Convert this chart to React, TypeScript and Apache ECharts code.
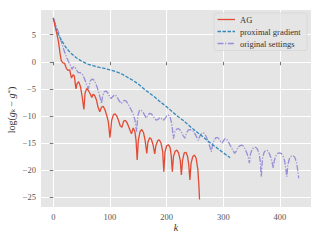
import React, { useEffect, useRef } from "react";
import * as echarts from "echarts";

const xTicks = [0, 100, 200, 300, 400];
const yTicks = [5, 0, -5, -10, -15, -20, -25];
const seriesNames = ["AG", "proximal gradient", "original settings"];
const seriesColors = ["#E24A33", "#348ABD", "#988ED5"];
const seriesDashes: (number[] | null)[] = [null, [3.5, 1.5], [6, 1.6, 1.2, 1.6]];

const agData: [number, number][] = [
  [0, 8.1], [3, 6.6], [6, 5.3], [9, 3.8], [12, 1.5], [14, 0.2], [17, -0.2], [20, -0.3],
  [23, -1.2], [26, -1.6], [29, -1.5], [32, -3.0], [35, -2.4], [37, -2.6], [40, -5.0],
  [42, -4.0], [45, -3.7], [48, -4.6], [51, -6.5], [54, -8.8], [56, -5.8], [59, -4.9],
  [62, -5.3], [65, -5.9], [68, -6.6], [70, -6.0], [73, -6.2], [76, -7.0], [79, -8.4],
  [82, -9.2], [85, -8.4], [88, -8.2], [91, -8.8], [94, -9.8], [97, -11.0], [100, -14.0],
  [103, -10.8], [106, -9.8], [109, -9.6], [112, -10.0], [115, -10.8], [118, -11.8],
  [121, -12.1], [124, -11.0], [127, -10.8], [130, -11.2], [133, -12.0], [136, -12.8],
  [138, -13.3], [141, -12.2], [144, -12.9], [146, -14.5], [148, -18.1], [150, -14.5],
  [153, -12.9], [156, -12.5], [159, -13.0], [162, -14.5], [165, -16.9], [167, -14.8],
  [170, -14.0], [173, -14.3], [176, -15.3], [179, -17.0], [181, -15.5], [184, -14.6],
  [187, -14.4], [190, -15.0], [193, -16.5], [195, -20.3], [197, -16.7], [200, -15.5],
  [203, -15.3], [206, -15.8], [208, -17.2], [210, -20.3], [212, -17.5], [215, -16.5],
  [218, -16.3], [221, -16.8], [224, -18.2], [226, -20.9], [228, -18.2], [231, -16.8],
  [234, -16.7], [237, -17.5], [239, -19.0], [241, -21.8], [243, -18.8], [246, -17.5],
  [249, -17.2], [252, -17.8], [255, -19.8], [257, -23.0], [258, -25.4],
];

const proxData: [number, number][] = [
  [0, 8.1], [5, 6.0], [10, 4.8], [15, 3.9], [20, 3.0], [25, 2.3], [30, 1.7], [40, 0.8],
  [50, 0.1], [60, -0.4], [70, -0.7], [80, -1.0], [90, -1.2], [100, -1.5], [110, -1.8],
  [120, -2.2], [130, -2.8], [140, -3.4], [150, -4.1], [160, -5.0], [170, -5.8],
  [180, -6.6], [190, -7.5], [200, -8.3], [210, -9.2], [220, -10.1], [230, -10.9],
  [240, -11.8], [250, -12.7], [260, -13.5], [270, -14.4], [280, -15.2], [290, -16.0],
  [300, -16.8], [312, -17.7],
];

const origData: [number, number][] = [
  [0, 8.0], [3, 7.2], [6, 6.3], [9, 5.5], [12, 4.4], [15, 3.4], [18, 2.4], [21, 1.5],
  [24, 0.7], [27, 0.0], [30, -0.5], [33, -1.4], [35, -1.0], [38, -0.9], [41, -1.5],
  [44, -2.0], [47, -2.0], [50, -2.1], [53, -2.6], [56, -3.4], [59, -4.3], [62, -5.0],
  [65, -3.6], [68, -3.2], [71, -3.3], [74, -3.8], [77, -4.6], [80, -5.6], [83, -6.8],
  [85, -7.7], [87, -6.3], [90, -5.5], [93, -5.4], [96, -5.7], [99, -6.3], [102, -6.8],
  [105, -6.4], [108, -6.1], [111, -6.3], [114, -6.8], [117, -7.3], [120, -7.7],
  [123, -7.3], [126, -7.1], [129, -7.3], [132, -7.8], [135, -8.4], [138, -9.0],
  [141, -9.7], [144, -10.7], [147, -12.9], [149, -10.0], [152, -9.0], [155, -8.9],
  [158, -9.3], [161, -9.8], [164, -10.4], [167, -9.9], [170, -9.5], [173, -9.6],
  [176, -10.0], [179, -10.5], [182, -10.8], [185, -10.6], [188, -10.3], [191, -10.5],
  [194, -10.8], [197, -10.5], [200, -10.0], [203, -9.8], [206, -10.2], [209, -11.4],
  [212, -14.2], [214, -13.0], [217, -12.5], [220, -12.3], [223, -12.5], [226, -13.0],
  [229, -13.6], [232, -14.1], [235, -13.2], [238, -12.6], [241, -12.5], [244, -12.6],
  [247, -12.8], [250, -13.3], [253, -13.9], [256, -14.5], [259, -13.6], [262, -13.2],
  [265, -13.1], [268, -13.4], [271, -14.1], [275, -15.3], [279, -16.6], [281, -15.3],
  [284, -14.4], [287, -14.0], [290, -14.0], [293, -14.3], [296, -14.8], [298, -15.0],
  [300, -14.6], [303, -14.2], [306, -14.3], [309, -14.8], [312, -15.4], [316, -16.2],
  [320, -16.9], [323, -16.5], [326, -15.8], [329, -15.5], [332, -15.4], [335, -15.5],
  [338, -16.0], [341, -16.7], [344, -17.6], [346, -18.7], [348, -17.0], [351, -16.1],
  [354, -15.8], [357, -15.8], [360, -16.1], [363, -16.9], [365, -18.2], [367, -21.2],
  [369, -17.9], [372, -16.7], [375, -16.3], [378, -16.4], [381, -16.9], [384, -17.7],
  [386, -18.5], [388, -19.6], [390, -18.2], [393, -17.3], [396, -16.9], [399, -16.8],
  [402, -16.9], [405, -17.3], [408, -18.2], [410, -19.5], [412, -21.2], [414, -18.9],
  [417, -17.8], [420, -17.4], [423, -17.3], [426, -17.6], [429, -18.5], [431, -19.8],
  [433, -21.5],
];

const FONT = "'Liberation Serif', 'DejaVu Serif', serif";

export default function App() {
  const ref = useRef<HTMLDivElement>(null);
  useEffect(() => {
    if (!ref.current) return;
    const chart = echarts.init(ref.current, undefined, { renderer: "svg" });
    const axisCommon = {
      axisLine: { show: false },
      axisTick: { show: true, length: 3.5, lineStyle: { color: "#555", width: 0.8 } },
      axisLabel: { color: "#555", fontFamily: FONT, fontSize: 8.5 },
      splitLine: { show: true, lineStyle: { color: "#ffffff", width: 1 } },
    };
    const legendRows = [19.5, 31.5, 43.5];
    const legendGraphics: any[] = [
      {
        type: "rect", shape: { x: 214, y: 13, width: 93, height: 37.5, r: 2 },
        style: { fill: "rgba(229,229,229,0.8)", stroke: "#d6d6d6", lineWidth: 0.8 }, z: 10,
      },
    ];
    seriesNames.forEach((n, i) => {
      legendGraphics.push({
        type: "line", shape: { x1: 217.5, y1: legendRows[i], x2: 235, y2: legendRows[i] },
        style: { stroke: seriesColors[i], lineWidth: 1.3, lineDash: seriesDashes[i] || undefined }, z: 11,
      });
      legendGraphics.push({
        type: "text", x: 240, y: legendRows[i],
        style: { text: n, fontFamily: FONT, fontSize: 8.5, fill: "#333", verticalAlign: "middle", align: "left" }, z: 11,
      });
    });
    chart.setOption({
      animation: false,
      backgroundColor: "#ffffff",
      grid: {
        left: 41, top: 10, right: 9, bottom: 33,
        show: true, backgroundColor: "#e5e5e5", borderWidth: 0,
      },
      xAxis: {
        type: "value", min: -21.7, max: 454.7,
        ...axisCommon,
        axisTick: { ...axisCommon.axisTick, customValues: xTicks },
        axisLabel: { ...axisCommon.axisLabel, customValues: xTicks, margin: 5 },
      },
      yAxis: {
        type: "value", min: -26.8, max: 9.56,
        ...axisCommon,
        axisTick: { ...axisCommon.axisTick, customValues: yTicks },
        axisLabel: {
          ...axisCommon.axisLabel, customValues: yTicks, margin: 5,
          formatter: (v: number) => (v < 0 ? "\u2212" + Math.abs(v) : String(v)),
        },
      },
      graphic: [
        ...legendGraphics,
        {
          type: "text", x: 11, y: 110, rotation: Math.PI / 2,
          style: {
            text: "{n|log(}{i|g}{s|k}{n| \u2212 }{i|g}{p|*}{n|)}",
            align: "center", verticalAlign: "middle",
            rich: {
              n: { fontFamily: FONT, fontSize: 10, fill: "#333" },
              i: { fontFamily: FONT, fontSize: 10, fontStyle: "italic", fill: "#333" },
              s: { fontFamily: FONT, fontSize: 7, fontStyle: "italic", fill: "#333", verticalAlign: "bottom", padding: [3, 0, 0, 0] },
              p: { fontFamily: FONT, fontSize: 7, fill: "#333", verticalAlign: "top", padding: [0, 0, 3, 0] },
            },
          },
        },
        {
          type: "text", x: 176, y: 227,
          style: {
            text: "k", fontFamily: FONT, fontSize: 10, fontStyle: "italic", fill: "#333",
            align: "center", verticalAlign: "middle",
          },
        },
      ],
      series: seriesNames.map((n, i) => ({
        name: n, type: "line", data: [agData, proxData, origData][i],
        showSymbol: false, symbol: "none", z: 3 - i,
        lineStyle: { color: seriesColors[i], width: 1.3, type: seriesDashes[i] || "solid" },
        itemStyle: { color: seriesColors[i] },
      })),
    });
    return () => chart.dispose();
  }, []);
  return <div ref={ref} style={{ width: 320, height: 240, position: "absolute", left: 0, top: 0 }} />;
}
